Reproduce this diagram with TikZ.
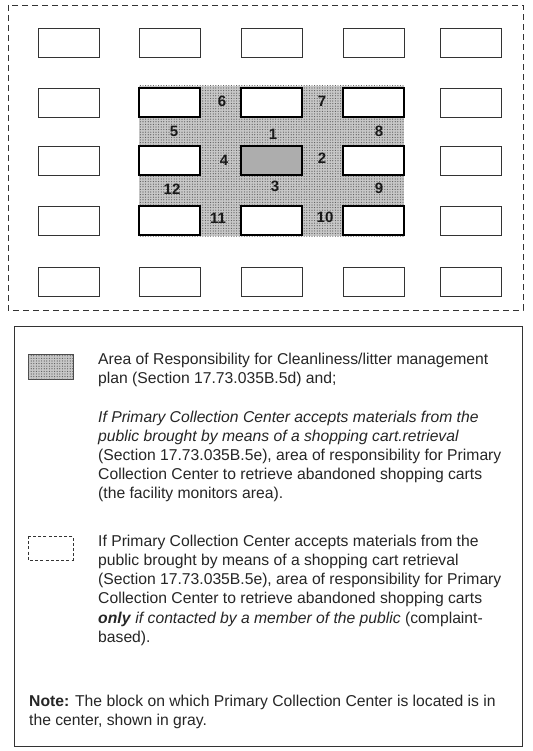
\documentclass[tikz,border=0pt]{standalone}
\usepackage{fontspec}
\setmainfont{Liberation Sans}
\usetikzlibrary{patterns.meta}
\begin{document}
\begin{tikzpicture}[x=1pt,y=-1pt,
  box/.style={draw=black!80, line width=0.9pt, fill=white, minimum width=61pt, minimum height=29pt, inner sep=0pt, outer sep=0pt},
  inbox/.style={box, line width=1.9pt, draw=black},
  centerbox/.style={inbox, fill=black!32},
  num/.style={font=\fontsize{15}{15}\selectfont\bfseries, text=black!90, inner sep=0pt},
  legtext/.style={font=\fontsize{15.7}{19}\selectfont, text=black!85, anchor=base west, inner sep=0pt},
  stipple/.style={fill=black!22, postaction={pattern={Dots[distance=2.6pt, radius=0.6pt]}, pattern color=black!65}},
]
\useasboundingbox[fill=white] (0,0) rectangle (532,751);

% outer dashed frame
\draw[black!80, line width=0.8pt, dash pattern=on 6pt off 4pt] (8,5) rectangle (523,310);

% shaded area of responsibility
\path[stipple] (139,86) rectangle (404,236);

% blocks: columns 68.5,169.5,271.5,373.5,470.5 ; rows 42.5,102.5,160.5,220.5,281.5
\foreach \c/\x in {1/68.5,2/169.5,3/271.5,4/373.5,5/470.5}{
  \node[box] (b1\c) at (\x,42.5) {};
  \node[box] (b5\c) at (\x,281.5) {};
}
\foreach \r/\y in {2/102.5,3/160.5,4/220.5}{
  \node[box] (b\r1) at (68.5,\y) {};
  \node[box] (b\r5) at (470.5,\y) {};
  \node[inbox] (b\r2) at (169.5,\y) {};
  \node[inbox] (b\r4) at (373.5,\y) {};
}
\node[inbox] (b23) at (271.5,102.5) {};
\node[centerbox] (b33) at (271.5,160.5) {};
\node[inbox] (b43) at (271.5,220.5) {};

% segment numbers
\node[num] (n6) at (222,101) {6};
\node[num] (n7) at (322,101) {7};
\node[num] (n5) at (174,131) {5};
\node[num] (n1) at (273,134) {1};
\node[num] (n8) at (379,131) {8};
\node[num] (n4) at (224,160) {4};
\node[num] (n2) at (322,158) {2};
\node[num] (n12) at (172,189) {12};
\node[num] (n3) at (275,186) {3};
\node[num] (n9) at (379,188) {9};
\node[num] (n11) at (218,218) {11};
\node[num] (n10) at (325,217) {10};

% legend frame
\draw[black!80, line width=0.9pt] (14,326) rectangle (522,746);

% legend swatches
\path[stipple, draw=black!70, line width=0.5pt] (28,354) rectangle (73,379);
\draw[black!80, line width=0.8pt, dash pattern=on 3pt off 2.2pt] (28,536) rectangle (73,560);

% legend texts
\node[legtext] (l1) at (98,364) {Area of Responsibility for Cleanliness/litter management};
\node[legtext] (l2) at (98,383) {plan (Section 17.73.035B.5d) and;};
\node[legtext] (l3) at (98,422) {\itshape If Primary Collection Center accepts materials from the};
\node[legtext] (l4) at (98,441) {\itshape public brought by means of a shopping cart.retrieval};
\node[legtext] (l5) at (98,460) {(Section 17.73.035B.5e), area of responsibility for Primary};
\node[legtext] (l6) at (98,479.3) {Collection Center to retrieve abandoned shopping carts};
\node[legtext] (l7) at (98,498.6) {(the facility monitors area).};
\node[legtext] (l8) at (98,546) {If Primary Collection Center accepts materials from the};
\node[legtext] (l9) at (98,565.3) {public brought by means of a shopping cart retrieval};
\node[legtext] (l10) at (98,584.6) {(Section 17.73.035B.5e), area of responsibility for Primary};
\node[legtext] (l11) at (98,603.9) {Collection Center to retrieve abandoned shopping carts};
\node[legtext] (l12) at (98,623.2) {\textbf{\itshape only} \textit{if contacted by a member of the public} (complaint-};
\node[legtext] (l13) at (98,642.5) {based).};
\node[legtext] (l14) at (29,706) {\textbf{Note:} The block on which Primary Collection Center is located is in};
\node[legtext] (l15) at (29,725.3) {the center, shown in gray.};
\end{tikzpicture}
\end{document}
